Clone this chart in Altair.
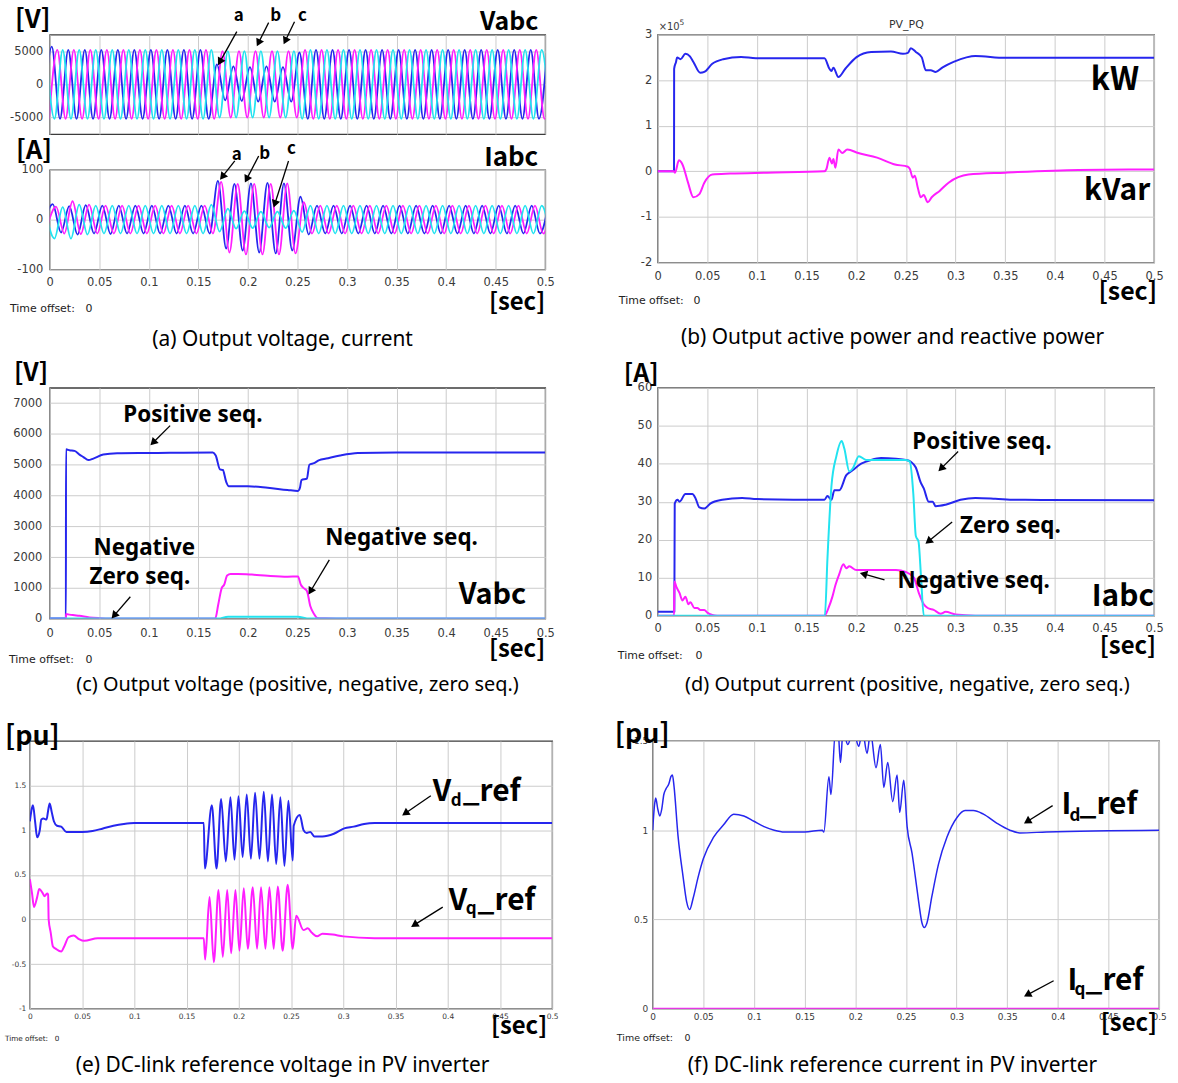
import math
import altair as alt
import pandas as pd

# ---------------- data ----------------
HALF_PERIOD = 1 / 120          # 60 Hz fundamental: one extremum every half cycle
X_TICKS = [0, 0.05, 0.1, 0.15, 0.2, 0.25, 0.3, 0.35, 0.4, 0.45, 0.5]

# (a) Vabc: successive extrema (V) of each phase, first one at *_T0 seconds
VA_T0 = -0.0063
VA = [-5200, 5700, -5200, 5200, -5200, 5200, -5200, 5200, -5200, 5200,
      -5200, 5200, -5200, 5200, -5200, 5200, -5200, 5200, -5200, 5200,
      -5200, 3000, -2400, 2700, -2500, 2600, -2600, 2700, -2600, 2600,
      -2600, 4800, -5200, 5200, -5200, 5200, -5200, 5200, -5200, 5200,
      -5200, 5200, -5200, 5200, -5200, 5200, -5200, 5200, -5200, 5200,
      -5200, 5200, -5200, 5200, -5200, 5200, -5200, 5200, -5200, 5200,
      -5200, 5200]
VB_T0 = -0.0007
VB = [-5200, 5200, -5200, 5200, -5200, 5200, -5200, 5200, -5200, 5200,
      -5200, 5200, -5200, 5200, -5200, 5200, -5200, 5200, -5200, 5200,
      -5200, 5000, -5000, 5000, -5000, 5000, -5000, 5000, -5000, 5000,
      -5000, 5200, -5200, 5200, -5200, 5200, -5200, 5200, -5200, 5200,
      -5200, 5200, -5200, 5200, -5200, 5200, -5200, 5200, -5200, 5200,
      -5200, 5200, -5200, 5200, -5200, 5200, -5200, 5200, -5200, 5200,
      -5200, 5200]
VC_T0 = -0.0036
VC = [5200, -5200, 5200, -5200, 5200, -5200, 5200, -5200, 5200, -5200,
      5200, -5200, 5200, -5200, 5200, -5200, 5200, -5200, 5200, -5200,
      5200, -5000, 5000, -5000, 5000, -5000, 5000, -5000, 5000, -5000,
      5000, -5200, 5200, -5200, 5200, -5200, 5200, -5200, 5200, -5200,
      5200, -5200, 5200, -5200, 5200, -5200, 5200, -5200, 5200, -5200,
      5200, -5200, 5200, -5200, 5200, -5200, 5200, -5200, 5200, -5200,
      5200, -5200]

# (a) Iabc extrema (A)
IA_T0 = -0.0053
IA = [-3, 31, -26, 27, -30, 29, -28, 28, -29, 28,
      -28, 28, -28, 28, -28, 28, -28, 28, -28, 28,
      -28, 78, -58, 72, -62, 73, -66, 74, -68, 73,
      -62, 46, -30, 28, -28, 28, -28, 28, -28, 28,
      -28, 28, -28, 28, -28, 28, -28, 28, -28, 28,
      -28, 28, -28, 28, -28, 28, -28, 28, -28, 28,
      -28, 28]
IB_T0 = -0.0020
IB = [-10, 26, -28, 37, -29, 30, -28, 28, -28, 28,
      -28, 28, -28, 28, -28, 28, -28, 28, -28, 28,
      -28, 76, -66, 72, -70, 72, -70, 72, -70, 73,
      -68, 35, -28, 28, -28, 28, -28, 28, -28, 28,
      -28, 28, -28, 28, -28, 28, -28, 28, -28, 28,
      -28, 28, -28, 28, -28, 28, -28, 28, -28, 28,
      -28, 28]
IC_T0 = -0.0036
IC = [10, -38, 25, -38, 30, -30, 28, -28, 28, -28,
      28, -28, 28, -28, 28, -28, 28, -28, 28, -28,
      30, -24, 22, -18, 17, -17, 16, -16, 16, -17,
      18, -25, 28, -28, 28, -28, 28, -28, 28, -28,
      28, -28, 28, -28, 28, -28, 28, -28, 28, -28,
      28, -28, 28, -28, 28, -28, 28, -28, 28, -28,
      28, -28]

# (b) active / reactive power (x 1e5)
P_T = [0, 0.0165, 0.0166, 0.0185, 0.0196, 0.023, 0.028, 0.0325, 0.036, 0.043,
       0.047, 0.055, 0.066, 0.084, 0.099, 0.168, 0.173, 0.175, 0.177, 0.182,
       0.189, 0.2, 0.215, 0.235, 0.247, 0.252, 0.255, 0.26, 0.266, 0.27,
       0.275, 0.28, 0.287, 0.298, 0.311, 0.32, 0.35, 0.5]
P_V = [0, 0, 2.25, 2.4, 2.5, 2.46, 2.58, 2.52, 2.4, 2.16,
       2.18, 2.36, 2.46, 2.51, 2.48, 2.48, 2.25, 2.2, 2.27, 2.07,
       2.25, 2.5, 2.62, 2.63, 2.58, 2.6, 2.7, 2.62, 2.5, 2.22,
       2.22, 2.18, 2.28, 2.4, 2.5, 2.53, 2.49, 2.49]
Q_T = [0, 0.0165, 0.0175, 0.0214, 0.025, 0.0306, 0.036, 0.042, 0.047, 0.055,
       0.073, 0.11, 0.168, 0.170, 0.173, 0.1755, 0.177, 0.179, 0.182, 0.186,
       0.191, 0.202, 0.221, 0.239, 0.252, 0.254, 0.257, 0.259, 0.262, 0.265,
       0.268, 0.272, 0.276, 0.284, 0.293, 0.313, 0.35, 0.424, 0.5]
Q_V = [0, 0, -0.03, 0.24, 0.15, -0.25, -0.57, -0.5, -0.25, -0.07,
       -0.05, -0.03, 0, 0.05, 0.3, 0.17, 0.27, 0.08, 0.48, 0.4,
       0.48, 0.4, 0.3, 0.15, 0.1, 0.05, -0.14, -0.1, -0.36, -0.57,
       -0.52, -0.68, -0.57, -0.43, -0.25, -0.07, -0.03, 0.03, 0.04]

# (c) voltage sequence components (V)
CP_T = [0, 0.0163, 0.0164, 0.02, 0.025, 0.03, 0.034, 0.039, 0.044, 0.054,
        0.068, 0.1, 0.1646, 0.1675, 0.1718, 0.1747, 0.178, 0.1807, 0.2, 0.22,
        0.24, 0.2505, 0.2525, 0.254, 0.2595, 0.262, 0.2667, 0.272, 0.279, 0.293,
        0.311, 0.35, 0.5]
CP_V = [0, 0, 5500, 5470, 5450, 5330, 5250, 5150, 5200, 5330,
        5370, 5380, 5400, 5300, 4850, 4830, 4450, 4300, 4300, 4250,
        4180, 4150, 4250, 4500, 4550, 5000, 5050, 5150, 5200, 5300,
        5380, 5400, 5400]
CN_T = [0, 0.0163, 0.0165, 0.02, 0.025, 0.03, 0.04, 0.05, 0.06, 0.167,
        0.17, 0.1736, 0.176, 0.179, 0.1825, 0.19, 0.204, 0.22, 0.24, 0.2505,
        0.2534, 0.256, 0.2595, 0.263, 0.2667, 0.27, 0.278, 0.3, 0.5]
CN_V = [0, 0, 150, 130, 110, 90, 40, 15, 0, 0,
        450, 1000, 1100, 1400, 1450, 1450, 1430, 1390, 1360, 1370,
        1100, 1000, 900, 400, 150, 20, 10, 0, 0]
CZ_T = [0, 0.17, 0.18, 0.25, 0.262, 0.5]
CZ_V = [0, 0, 60, 60, 0, 0]

# (d) current sequence components (A)
DP_T = [0, 0.0168, 0.0172, 0.02, 0.022, 0.028, 0.035, 0.038, 0.042, 0.047,
        0.053, 0.065, 0.085, 0.1, 0.168, 0.171, 0.175, 0.178, 0.183, 0.19,
        0.195, 0.205, 0.215, 0.225, 0.24, 0.25, 0.255, 0.26, 0.265, 0.268,
        0.273, 0.277, 0.28, 0.29, 0.305, 0.32, 0.34, 0.36, 0.5]
DP_V = [1, 1, 29.5, 30.5, 30, 32, 32, 31, 28.5, 28.2,
        29.5, 30.5, 31, 30.7, 30.5, 31.5, 30.5, 33, 33, 37,
        38, 40, 41, 41.5, 41.3, 41, 40.5, 39, 35, 33.5,
        30, 30, 28.8, 29.2, 30.5, 31, 30.8, 30.5, 30.4]
DN_T = [0, 0.0166, 0.0168, 0.019, 0.022, 0.025, 0.028, 0.031, 0.033, 0.037,
        0.04, 0.043, 0.047, 0.05, 0.055, 0.06, 0.168, 0.172, 0.176, 0.179,
        0.183, 0.187, 0.19, 0.193, 0.2, 0.22, 0.24, 0.25, 0.258, 0.263,
        0.268, 0.272, 0.278, 0.285, 0.29, 0.3, 0.32, 0.5]
DN_V = [0, 0, 9, 7.5, 6, 4, 5, 3, 3.5, 2,
        2, 1.5, 1.5, 0.8, 0.2, 0, 0, 2, 5, 8,
        11, 13.5, 12.5, 13, 12, 12, 12, 11.5, 10, 6,
        3, 2, 1.5, 0.5, 1, 0.3, 0, 0]
DZ_T = [0, 0.1684, 0.171, 0.175, 0.18, 0.1853, 0.188, 0.193, 0.197, 0.2026,
        0.21, 0.25, 0.254, 0.2575, 0.26, 0.2627, 0.2653, 0.268, 0.5]
DZ_V = [0, 0, 15, 34, 42, 46, 44, 38, 39, 42,
        41, 41, 40.5, 32, 21, 19.5, 10, 0, 0]

# (e) Vd_ref / Vq_ref (pu)
VD_T = [0, 0.002, 0.003, 0.005, 0.007, 0.0095, 0.011, 0.013, 0.016, 0.0175,
        0.019, 0.021, 0.023, 0.026, 0.03, 0.035, 0.05, 0.06, 0.07, 0.08,
        0.09, 0.1, 0.1665, 0.1675, 0.1742, 0.1787, 0.1831, 0.1876, 0.192, 0.1959,
        0.1997, 0.2037, 0.2076, 0.2116, 0.2156, 0.2198, 0.2239, 0.2279, 0.2318, 0.2358,
        0.2398, 0.2437, 0.2475, 0.2516, 0.2526, 0.2584, 0.262, 0.265, 0.2685, 0.2724,
        0.28, 0.291, 0.301, 0.31, 0.32, 0.33, 0.5]
VD_V = [1.1, 1.25, 1.28, 1.1, 0.92, 1.0, 1.12, 1.13, 1.12, 1.22,
        1.3, 1.2, 1.1, 1.05, 1.04, 0.98, 0.98, 0.99, 1.02, 1.05,
        1.07, 1.08, 1.08, 0.57, 1.28, 0.57, 1.35, 0.65, 1.37, 0.67,
        1.38, 0.7, 1.4, 0.68, 1.42, 0.68, 1.43, 0.65, 1.4, 0.62,
        1.37, 0.6, 1.33, 0.66, 1.05, 1.17, 1.0, 0.97, 0.98, 0.93,
        0.93, 0.96, 1.02, 1.04, 1.07, 1.08, 1.08]
VQ_T = [0, 0.002, 0.004, 0.007, 0.009, 0.012, 0.014, 0.0165, 0.0175, 0.018,
        0.02, 0.022, 0.025, 0.03, 0.033, 0.037, 0.042, 0.047, 0.052, 0.065,
        0.1, 0.1665, 0.1678, 0.172, 0.1761, 0.1806, 0.1847, 0.1889, 0.1927, 0.1968,
        0.2006, 0.2048, 0.2086, 0.2134, 0.2175, 0.2213, 0.2255, 0.2293, 0.2334, 0.2373,
        0.242, 0.2468, 0.2516, 0.255, 0.262, 0.266, 0.27, 0.275, 0.28, 0.29,
        0.3, 0.33, 0.5]
VQ_V = [0.45, 0.3, 0.14, 0.25, 0.34, 0.3, 0.26, 0.29, 0.28, 0.0,
        -0.15, -0.3, -0.33, -0.36, -0.3, -0.2, -0.18, -0.22, -0.24, -0.21,
        -0.21, -0.21, -0.45, 0.25, -0.48, 0.33, -0.42, 0.33, -0.38, 0.33,
        -0.35, 0.35, -0.33, 0.36, -0.33, 0.36, -0.33, 0.36, -0.33, 0.37,
        -0.35, 0.39, -0.33, 0.04, -0.12, -0.1, -0.15, -0.19, -0.16, -0.17,
        -0.19, -0.21, -0.21]

# (f) Id_ref / Iq_ref (pu)
ID_T = [0, 0.002, 0.003, 0.005, 0.007, 0.009, 0.011, 0.013, 0.016, 0.018,
        0.0195, 0.021, 0.025, 0.03, 0.0335, 0.0365, 0.04, 0.045, 0.05, 0.06,
        0.07, 0.08, 0.09, 0.1, 0.11, 0.12, 0.13, 0.15, 0.1675, 0.169,
        0.174, 0.176, 0.1805, 0.183, 0.1854, 0.188, 0.1926, 0.198, 0.2035, 0.207,
        0.2117, 0.215, 0.2205, 0.2248, 0.2282, 0.2321, 0.237, 0.2413, 0.2439, 0.2479,
        0.2512, 0.2561, 0.2593, 0.2626, 0.2659, 0.2682, 0.2708, 0.2757, 0.2822, 0.2905,
        0.3003, 0.3084, 0.3166, 0.3265, 0.3396, 0.3527, 0.3625, 0.3887, 0.5]
ID_V = [1.0, 1.15, 1.18, 1.12, 1.08, 1.12, 1.2, 1.23, 1.26, 1.3,
        1.31, 1.25, 0.97, 0.74, 0.6, 0.555, 0.62, 0.74, 0.84, 0.96,
        1.03, 1.09, 1.08, 1.05, 1.02, 1.0, 0.99, 0.99, 1.0, 0.99,
        1.3, 1.2, 1.56, 1.56, 1.38, 1.56, 1.48, 1.56, 1.47, 1.56,
        1.43, 1.55, 1.35, 1.48, 1.24, 1.38, 1.16, 1.31, 1.1, 1.28,
        1.02, 0.87, 0.74, 0.6, 0.48, 0.455, 0.48, 0.63, 0.81, 0.96,
        1.07, 1.11, 1.11, 1.09, 1.04, 1.0, 0.985, 0.99, 1.0]
IQ_T = [0, 0.5]
IQ_V = [0, 0]

# ---------------- styling ----------------
BLUE = "#2626ee"
MAG = "#ff1eff"
CYAN = "#22e3f0"
GRID = "#cccccc"
LABEL = "#3a3a3a"
TICK_FONT = "DejaVu Sans"
ANN_FONT = "Noto Sans CJK KR"
SEQ_FONT = "Noto Sans"
ONE = pd.DataFrame({"d": [0]})
NEG = "datum.value < 0 ? '-' + format(-datum.value, '~g') : format(datum.value, '~g')"


def series_df(ts, vs):
    return pd.DataFrame({"t": ts, "v": vs, "i": list(range(len(ts)))})


def wave_df(t0, vs):
    return series_df([t0 + k * HALF_PERIOD for k in range(len(vs))], vs)


def x_axis(labels=True, size=11.5, pad=7):
    return alt.Axis(values=X_TICKS, labels=labels, labelExpr=NEG, grid=True, gridColor=GRID,
                    gridWidth=1, ticks=False, domain=False, labelFont=TICK_FONT,
                    labelFontSize=size, labelColor=LABEL, labelPadding=pad, title=None,
                    labelFlush=False, labelOverlap=False)


def y_axis(values, size=11.5, pad=7):
    return alt.Axis(values=values, labelExpr=NEG, grid=True, gridColor=GRID, gridWidth=1,
                    ticks=False, domain=False, labelFont=TICK_FONT, labelFontSize=size,
                    labelColor=LABEL, labelPadding=pad, title=None, labelFlush=False,
                    labelOverlap=False)


def mk_line(df, color, ydom, xax, yax, width=2.0):
    return alt.Chart(df).mark_line(color=color, strokeWidth=width, interpolate="monotone",
                                   clip=True, strokeJoin="round").encode(
        x=alt.X("t:Q", scale=alt.Scale(domain=[0, 0.5], nice=False, zero=False), axis=xax),
        y=alt.Y("v:Q", scale=alt.Scale(domain=ydom, nice=False, zero=False), axis=yax),
        order=alt.Order("i:Q"))


def T(x, y, s, size, weight="bold", align="left", font=ANN_FONT, color="#000000",
      baseline="alphabetic"):
    return alt.Chart(ONE).mark_text(text=s, fontSize=size, fontWeight=weight, align=align,
                                    baseline=baseline, font=font, color=color).encode(
        x=alt.value(x), y=alt.value(y))


def SEQ(x, y, s):
    return T(x, y, s, 22.5, font=SEQ_FONT)


def ARROW(x1, y1, x2, y2):
    dx, dy = x2 - x1, y2 - y1
    L = math.hypot(dx, dy)
    ux, uy = dx / L, dy / L
    ang = math.degrees(math.atan2(dx, -dy)) % 360
    rule = alt.Chart(ONE).mark_rule(color="#000000", strokeWidth=1.3).encode(
        x=alt.value(x1), y=alt.value(y1), x2=alt.value(x2 - ux * 5), y2=alt.value(y2 - uy * 5))
    head = alt.Chart(ONE).mark_point(shape="triangle-up", filled=True, color="#000000",
                                     size=75, angle=ang, opacity=1).encode(
        x=alt.value(x2 - ux * 4), y=alt.value(y2 - uy * 4))
    return [rule, head]


def BOX(x0, x1, y0, y1):
    # invisible cell frame: fixes the space each panel takes in the concatenated layout
    return alt.Chart(ONE).mark_rect(opacity=0).encode(
        x=alt.value(x0), x2=alt.value(x1), y=alt.value(y0), y2=alt.value(y1))


def small(x, y, s, size=11):
    return T(x, y, s, size, weight="normal", font=TICK_FONT, color="#222222")


def caption(x, y, s, size=21):
    return T(x, y, s, size, weight="normal", align="center", font=SEQ_FONT)


SPACER = alt.layer(BOX(0, 1, 0, 1)).properties(
    width=1, height=1, view=alt.ViewBackground(stroke="transparent"))

# ---------------- panel (a) ----------------
xa1 = x_axis(labels=False)
ya1 = y_axis([-5000, 0, 5000])
a1 = alt.layer(
    BOX(-46, 553, -31, 101),
    mk_line(wave_df(VA_T0, VA), BLUE, [-7500, 7500], xa1, ya1, 1.8),
    mk_line(wave_df(VB_T0, VB), MAG, [-7500, 7500], xa1, ya1, 1.8),
    mk_line(wave_df(VC_T0, VC), CYAN, [-7500, 7500], xa1, ya1, 1.8),
    T(-35, -7, "[V]", 26),
    T(491, -5, "Vabc", 25, align="right"),
    T(190, -14, "a", 17, align="center"),
    T(227, -14, "b", 17, align="center"),
    T(254, -14, "c", 17, align="center"),
    *ARROW(188, -3, 169, 31), *ARROW(220, -12, 208, 12), *ARROW(246, -13, 235, 10),
).properties(width=498, height=100)

xa2 = x_axis(pad=7)
ya2 = y_axis([-100, 0, 100])
a2 = alt.layer(
    BOX(-46, 553, -33, 186),
    mk_line(wave_df(IA_T0, IA), BLUE, [-100, 100], xa2, ya2, 1.8),
    mk_line(wave_df(IB_T0, IB), MAG, [-100, 100], xa2, ya2, 1.8),
    mk_line(wave_df(IC_T0, IC), CYAN, [-100, 100], xa2, ya2, 1.8),
    T(-34, -11, "[A]", 26),
    T(491, -4, "Iabc", 26, align="right"),
    T(188, -10, "a", 17, align="center"),
    T(216, -11, "b", 17, align="center"),
    T(243, -16, "c", 17, align="center"),
    *ARROW(186, -9, 171, 10), *ARROW(210, -14, 196, 13), *ARROW(240, -9, 225, 38),
    T(498, 141, "[sec]", 24, align="right"),
    small(-40, 143, "Time offset:"), small(36, 143, "0"),
    caption(234, 177, "(a) Output voltage, current"),
).properties(width=498, height=100)

# ---------------- panel (b) ----------------
xb = x_axis(pad=8)
yb = y_axis([-2, -1, 0, 1, 2, 3], pad=6)
b = alt.layer(
    BOX(-56, 522, -31, 320),
    mk_line(series_df(P_T, P_V), BLUE, [-2, 3], xb, yb, 2.0),
    mk_line(series_df(Q_T, Q_V), MAG, [-2, 3], xb, yb, 2.0),
    T(1, -5, "×10", 10, weight="normal", font=TICK_FONT, color=LABEL),
    T(22, -10, "5", 7.5, weight="normal", font=TICK_FONT, color=LABEL),
    T(250, -7, "PV_PQ", 11, weight="normal", align="center", font=TICK_FONT, color="#333333"),
    T(484, 56, "kW", 32, align="right"),
    T(495, 166, "kVar", 30, align="right"),
    T(502, 267, "[sec]", 25, align="right"),
    small(-39, 271, "Time offset:"), small(36, 271, "0"),
    caption(236, 311, "(b) Output active power and reactive power"),
).properties(width=499, height=229)

# ---------------- panel (c) ----------------
xc = x_axis(pad=9)
yc = y_axis([0, 1000, 2000, 3000, 4000, 5000, 6000, 7000], pad=8)
c = alt.layer(
    BOX(-46, 553, -31, 324),
    mk_line(series_df(CP_T, CP_V), BLUE, [0, 7500], xc, yc, 2.0),
    mk_line(series_df(CN_T, CN_V), MAG, [0, 7500], xc, yc, 2.0),
    mk_line(series_df(CZ_T, CZ_V), CYAN, [0, 7500], xc, yc, 2.0),
    T(-36, -7, "[V]", 25),
    SEQ(74, 34, "Positive seq."),
    *ARROW(121, 38, 101, 58),
    SEQ(44, 168, "Negative"),
    SEQ(40, 197, "Zero seq."),
    *ARROW(81, 210, 62, 232),
    SEQ(277, 158, "Negative seq."),
    *ARROW(281, 173, 260, 208),
    T(479, 217, "Vabc", 29, align="right"),
    T(498, 271, "[sec]", 24, align="right"),
    small(-41, 277, "Time offset:"), small(36, 277, "0"),
    caption(249, 305, "(c) Output voltage (positive, negative, zero seq.)", 20),
).properties(width=498, height=232)

# ---------------- panel (d) ----------------
xd = x_axis(pad=7)
yd = y_axis([0, 10, 20, 30, 40, 50, 60], pad=6)
d = alt.layer(
    BOX(-56, 522, -31, 324),
    mk_line(series_df(DP_T, DP_V), BLUE, [0, 60], xd, yd, 2.0),
    mk_line(series_df(DN_T, DN_V), MAG, [0, 60], xd, yd, 2.0),
    mk_line(series_df(DZ_T, DZ_V), CYAN, [0, 60], xd, yd, 2.0),
    T(-34, -6, "[A]", 25),
    SEQ(256, 62, "Positive seq."),
    *ARROW(302, 64, 282, 84),
    SEQ(304, 146, "Zero seq."),
    *ARROW(296, 135, 269, 157),
    SEQ(241, 201, "Negative seq."),
    *ARROW(228, 193, 203, 186),
    T(499, 219, "Iabc", 30, align="right"),
    T(501, 268, "[sec]", 24, align="right"),
    small(-40, 273, "Time offset:"), small(38, 273, "0"),
    caption(251, 305, "(d) Output current (positive, negative, zero seq.)", 20),
).properties(width=499, height=229)

# ---------------- panel (e) ----------------
xe = x_axis(size=7.5, pad=4)
ye = y_axis([-1, -0.5, 0, 0.5, 1, 1.5], size=7.5, pad=4)
e = alt.layer(
    BOX(-26, 573, -29, 343),
    mk_line(series_df(VD_T, VD_V), BLUE, [-1, 2], xe, ye, 2.0),
    mk_line(series_df(VQ_T, VQ_V), MAG, [-1, 2], xe, ye, 2.0),
    T(-25, 4, "[pu]", 27),
    T(405, 60, "V", 30), T(423, 65, "d", 17), T(435, 60, "_ref", 30),
    *ARROW(403, 55, 374, 75),
    T(421, 170, "V", 30), T(438, 174, "q", 17), T(450, 170, "_ref", 30),
    *ARROW(415, 167, 383, 187),
    T(520, 295, "[sec]", 24, align="right"),
    small(-25, 302, "Time offset:", 7.3), small(25, 302, "0", 7.3),
    caption(254, 333, "(e) DC-link reference voltage in PV inverter"),
).properties(width=525, height=269)

# ---------------- panel (f) ----------------
xf = x_axis(size=9, pad=4)
yf = y_axis([0, 0.5, 1, 1.5], size=9, pad=5)
f = alt.layer(
    BOX(-51, 527, -29, 343),
    mk_line(series_df(ID_T, ID_V), BLUE, [0, 1.5], xf, yf, 1.5),
    mk_line(series_df(IQ_T, IQ_V), MAG, [0, 1.5], xf, yf, 2.0),
    T(-38, 2, "[pu]", 27),
    T(411, 73, "I", 30), T(419, 80, "d", 17), T(429, 73, "_ref", 30),
    *ARROW(402, 65, 373, 83),
    T(417, 250, "I", 30), T(424, 255, "q", 17), T(435, 250, "_ref", 30),
    *ARROW(403, 241, 373, 257),
    T(507, 291, "[sec]", 24, align="right"),
    small(-36, 302, "Time offset:", 9.5), small(32, 302, "0", 9.5),
    caption(241, 333, "(f) DC-link reference current in PV inverter"),
).properties(width=509, height=269)

# ---------------- layout ----------------
row1 = alt.hconcat(SPACER, alt.vconcat(a1, a2, spacing=0), b, spacing=0)
row2 = alt.hconcat(SPACER, c, d, spacing=0)
row3 = alt.hconcat(SPACER, e, f, spacing=0)

chart = alt.vconcat(row1, row2, row3, spacing=0).properties(
    padding=0, background="white").configure_view(stroke="#3c3c3c", strokeWidth=1.3)

chart.save("out.html", embed_options={"renderer": "svg", "actions": False})
